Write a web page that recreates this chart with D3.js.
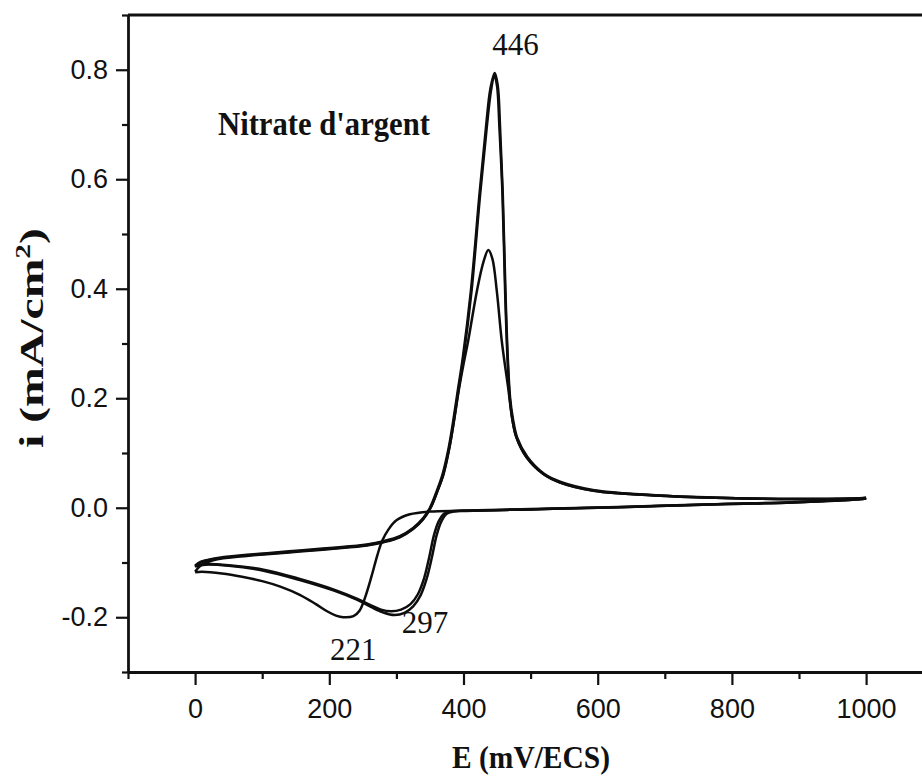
<!DOCTYPE html>
<html><head><meta charset="utf-8">
<script src="https://cdn.jsdelivr.net/npm/d3@7"></script>
<style>html,body{margin:0;padding:0;background:#fff;} svg{display:block;}</style>
</head><body>
<svg id="chart" width="922" height="778"></svg>
<script>
// ---- Data (E in mV/ECS, i in mA/cm2) ----
// Return sweep of the first cycle (1000 -> 0 mV), cathodic peak at 221 mV
const return1 = [[1000,0.017],[990,0.0155],[890,0.0097],[790,0.0067],[690,0.003],[600,0],[500,-0.003],[400,-0.0055],[350,-0.007],[320,-0.012],[300,-0.023],[288,-0.04],[279,-0.06],[272,-0.085],[263,-0.125],[253,-0.165],[245,-0.188],[236,-0.198],[221,-0.2],[210,-0.197],[198,-0.19],[180,-0.176],[156,-0.159],[127,-0.144],[100,-0.134],[70,-0.126],[40,-0.12],[10,-0.117],[0,-0.118]];
// Return sweeps of cycles 2 and 3, cathodic peak near 297 mV
const return2 = [[1000,0.017],[990,0.0155],[890,0.0097],[790,0.0067],[690,0.003],[600,0],[500,-0.003],[400,-0.0058],[385,-0.007],[375,-0.011],[367,-0.025],[360,-0.05],[353,-0.09],[345,-0.13],[336,-0.16],[325,-0.18],[312,-0.192],[297,-0.196],[280,-0.191],[262,-0.181],[241,-0.168],[206,-0.151],[156,-0.132],[102,-0.115],[50,-0.106],[15,-0.104],[0,-0.107]];
const return3 = [[1000,0.018],[990,0.016],[890,0.0102],[790,0.007],[690,0.0035],[600,0.0005],[500,-0.0025],[400,-0.005],[381,-0.0065],[371,-0.011],[363,-0.025],[356,-0.05],[349,-0.09],[341,-0.13],[332,-0.158],[321,-0.176],[307,-0.186],[292,-0.189],[277,-0.186],[260,-0.177],[241,-0.166],[206,-0.149],[156,-0.13],[102,-0.113],[50,-0.105],[15,-0.103],[0,-0.105]];
// Forward sweep of the first cycle (0 -> 1000 mV), small anodic peak
const forward1 = [[0,-0.117],[8,-0.106],[27,-0.096],[77,-0.088],[107,-0.085],[156,-0.08],[206,-0.075],[256,-0.069],[281,-0.063],[305,-0.054],[325,-0.039],[340,-0.021],[351,0],[361,0.03],[370,0.06],[379,0.11],[386,0.16],[393,0.215],[400,0.262],[407,0.305],[420,0.396],[430,0.45],[437,0.4706],[443,0.455],[449.6,0.396],[457,0.305],[463,0.25],[467,0.215],[470,0.185],[473,0.16],[479,0.128],[494,0.092],[519,0.0615],[544,0.046],[594,0.031],[693,0.022],[792,0.0177],[892,0.0158],[990,0.0172],[1000,0.018]];
// Forward sweeps of cycles 2 and 3, anodic peak at 446 mV
const forward2 = [[0,-0.108],[8,-0.1],[27,-0.094],[77,-0.087],[107,-0.084],[156,-0.079],[206,-0.074],[256,-0.068],[281,-0.062],[305,-0.053],[325,-0.038],[340,-0.02],[351,0],[361,0.03],[370,0.062],[379,0.11],[385,0.153],[392,0.21],[400,0.2745],[412,0.396],[425,0.575],[434.7,0.695],[441,0.762],[446,0.79],[450,0.77],[453.5,0.695],[458,0.575],[462,0.396],[465.5,0.2745],[469,0.2],[473,0.16],[479,0.128],[494,0.092],[519,0.0615],[544,0.046],[594,0.031],[693,0.022],[792,0.0177],[892,0.0158],[990,0.017],[1000,0.018]];
const forward3 = [[0,-0.106],[8,-0.099],[27,-0.093],[77,-0.086],[107,-0.083],[156,-0.078],[206,-0.073],[256,-0.067],[281,-0.061],[305,-0.052],[325,-0.037],[340,-0.019],[350,0],[360,0.03],[369,0.062],[378,0.11],[384,0.153],[391,0.21],[399,0.2745],[411,0.396],[424,0.575],[433.5,0.695],[440,0.765],[446.5,0.794],[451,0.772],[454.5,0.695],[458.5,0.575],[462.5,0.396],[466,0.2745],[469.5,0.2],[474,0.16],[480,0.128],[495,0.093],[520,0.062],[545,0.047],[595,0.032],[694,0.0225],[792,0.018],[892,0.016],[990,0.0175],[1000,0.0185]];

const sweeps = [return1, return2, return3, forward1, forward2, forward3];

const xMajorTicks = [0, 200, 400, 600, 800, 1000];
const xMinorTicks = [-100, 100, 300, 500, 700, 900];
const yMajorTicks = [-0.2, 0.0, 0.2, 0.4, 0.6, 0.8];
const yMinorTicks = [-0.3, -0.1, 0.1, 0.3, 0.5, 0.7, 0.9];

const peakLabels = [
  {text: "446", E: 443, i: 0.827},
  {text: "297", E: 308, i: -0.229},
  {text: "221", E: 201, i: -0.278}
];
const insetTitle = "Nitrate d'argent";
const xTitle = "E (mV/ECS)";

// ---- Chart ----
const svg = d3.select("#chart");
const x = d3.scaleLinear().domain([-100, 1100]).range([128, 933.2]);
const y = d3.scaleLinear().domain([-0.3, 0.9]).range([672, 15]);

const line = d3.line()
  .x(d => x(d[0])).y(d => y(d[1]))
  .curve(d3.curveCatmullRom.alpha(0.5));

svg.append("g").selectAll("path").data(sweeps).join("path")
  .attr("d", line)
  .attr("fill", "none")
  .attr("stroke", "#0d0d0d")
  .attr("stroke-width", 2.5)
  .attr("stroke-linejoin", "round");

const sans = "'Liberation Sans', Arial, sans-serif";
const serif = "'Liberation Serif', 'Times New Roman', serif";

// x axis
const gx = svg.append("g").attr("transform", `translate(0,${y(-0.3)})`)
  .call(d3.axisBottom(x).tickValues(xMajorTicks).tickSize(13).tickSizeOuter(0)
    .tickPadding(14).tickFormat(d => String(d)));
const gxm = svg.append("g").attr("transform", `translate(0,${y(-0.3)})`)
  .call(d3.axisBottom(x).tickValues(xMinorTicks).tickSize(7).tickSizeOuter(0).tickFormat(""));
gxm.select(".domain").remove();

// y axis
const gy = svg.append("g").attr("transform", `translate(${x(-100)},0)`)
  .call(d3.axisLeft(y).tickValues(yMajorTicks).tickSize(12).tickSizeOuter(0)
    .tickPadding(8).tickFormat(d => d.toFixed(1)));
const gym = svg.append("g").attr("transform", `translate(${x(-100)},0)`)
  .call(d3.axisLeft(y).tickValues(yMinorTicks).tickSize(6).tickSizeOuter(0).tickFormat(""));
gym.select(".domain").remove();

[gx, gxm, gy, gym].forEach(g => {
  g.attr("color", "#111").attr("font-family", sans).attr("font-size", 27);
  g.selectAll(".tick line").attr("stroke-width", 2.2);
  g.selectAll(".domain").attr("stroke-width", 2.8);
  g.selectAll("text").attr("fill", "#111");
});

// top and right frame
svg.append("line").attr("x1", x(-100)).attr("x2", x(1100)).attr("y1", y(0.9)).attr("y2", y(0.9))
  .attr("stroke", "#111").attr("stroke-width", 2.8);
svg.append("line").attr("x1", x(1100)).attr("x2", x(1100)).attr("y1", y(0.9)).attr("y2", y(-0.3))
  .attr("stroke", "#111").attr("stroke-width", 2.8);

// peak labels
svg.append("g").selectAll("text").data(peakLabels).join("text")
  .attr("x", d => x(d.E)).attr("y", d => y(d.i))
  .attr("font-family", serif).attr("font-size", 31).attr("fill", "#111")
  .text(d => d.text);

// inset title
svg.append("text").attr("x", 218).attr("y", 135)
  .attr("font-family", serif).attr("font-weight", "bold").attr("font-size", 34)
  .attr("textLength", 212).attr("lengthAdjust", "spacingAndGlyphs")
  .attr("fill", "#111").text(insetTitle);

// x title
svg.append("text").attr("x", 531).attr("y", 768).attr("text-anchor", "middle")
  .attr("font-family", serif).attr("font-weight", "bold").attr("font-size", 32)
  .attr("textLength", 158).attr("lengthAdjust", "spacingAndGlyphs")
  .attr("fill", "#111").text(xTitle);

// y title
const yt = svg.append("text").attr("transform", "translate(43,338) rotate(-90)")
  .attr("text-anchor", "middle")
  .attr("font-family", serif).attr("font-weight", "bold").attr("font-size", 34)
  .attr("textLength", 220).attr("lengthAdjust", "spacingAndGlyphs")
  .attr("fill", "#111");
yt.append("tspan").text("i (mA/cm");
yt.append("tspan").attr("dy", -13).attr("font-size", 21).text("2");
yt.append("tspan").attr("dy", 13).text(")");
</script>
</body></html>
